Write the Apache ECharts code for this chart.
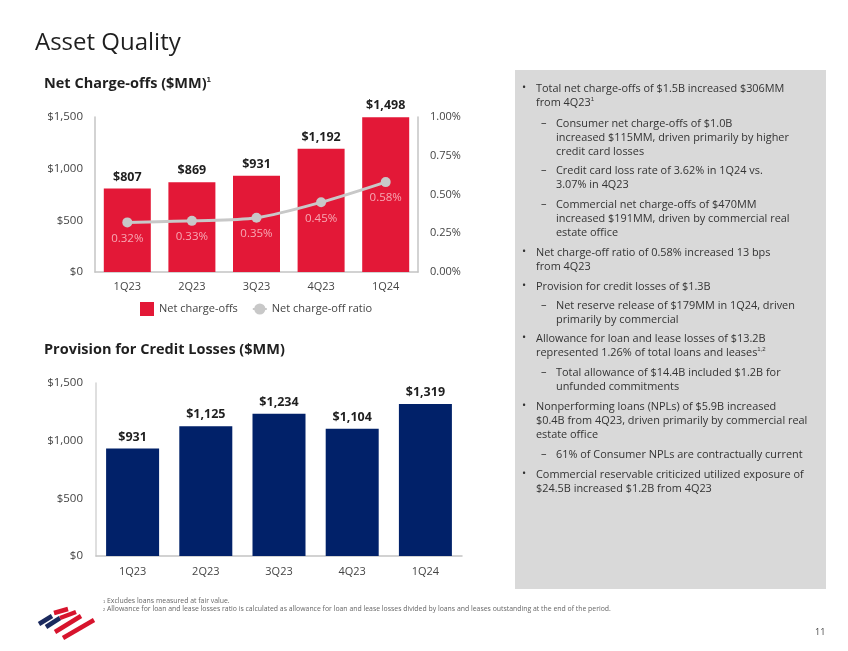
<!DOCTYPE html>
<html>
<head>
<meta charset="utf-8">
<style>html,body{margin:0;padding:0;background:#fff}#main{width:848px;height:651px}</style>
<script src="https://cdn.jsdelivr.net/npm/echarts@6/dist/echarts.min.js"></script>
</head>
<body>
<div id="main"></div>
<script>
const quarters = ['1Q23', '2Q23', '3Q23', '4Q23', '1Q24'];
const chargeOffs = [807, 869, 931, 1192, 1498];
const chargeOffRatio = [0.32, 0.33, 0.35, 0.45, 0.58];
const provision = [931, 1125, 1234, 1104, 1319];
const footnotes = [
    '{s|1} Excludes loans measured at fair value.',
    '{s|2} Allowance for loan and lease losses ratio is calculated as allowance for loan and lease losses divided by loans and leases outstanding at the end of the period.'
];
// bullets: level, y of first line, lines
const bullets = [
    [0, 82, ['Total net charge-offs of $1.5B increased $306MM', 'from 4Q23{s|1}']],
    [1, 117, ['Consumer net charge-offs of $1.0B', 'increased $115MM, driven primarily by higher', 'credit card losses']],
    [1, 164, ['Credit card loss rate of 3.62% in 1Q24 vs.', '3.07% in 4Q23']],
    [1, 198, ['Commercial net charge-offs of $470MM', 'increased $191MM, driven by commercial real', 'estate office']],
    [0, 246, ['Net charge-off ratio of 0.58% increased 13 bps', 'from 4Q23']],
    [0, 280, ['Provision for credit losses of $1.3B']],
    [1, 299, ['Net reserve release of $179MM in 1Q24, driven', 'primarily by commercial']],
    [0, 332, ['Allowance for loan and lease losses of $13.2B', 'represented 1.26% of total loans and leases{s|1,2}']],
    [1, 366, ['Total allowance of $14.4B included $1.2B for', 'unfunded commitments']],
    [0, 400, ['Nonperforming loans (NPLs) of $5.9B increased', '$0.4B from 4Q23, driven primarily by commercial real', 'estate office']],
    [1, 448, ['61% of Consumer NPLs are contractually current']],
    [0, 468, ['Commercial reservable criticized utilized exposure of', '$24.5B increased $1.2B from 4Q23']]
];

const FONT = '"Open Sans", "Noto Sans", sans-serif';
const GREY = '#c4c4c4';
const money = v => '$' + v.toLocaleString('en-US');
const chart = echarts.init(document.getElementById('main'), null, {renderer: 'canvas'});

const graphic = [
    {type: 'rect', z: -1, shape: {x: 515, y: 70, width: 311, height: 519}, style: {fill: '#d9d9d9'}},
    {type: 'text', x: 35, y: 31, style: {text: 'Asset Quality', font: '24px ' + FONT, fill: '#1f1f1f'}},
    {type: 'text', x: 44, y: 76, style: {
        text: 'Net Charge-offs ($MM){s|1}', font: 'bold 14.5px ' + FONT, fill: '#1f1f1f',
        rich: {s: {fontSize: 8, fontWeight: 'bold', verticalAlign: 'top', fill: '#1f1f1f'}}
    }},
    {type: 'text', x: 44, y: 342, style: {text: 'Provision for Credit Losses ($MM)', font: 'bold 14.5px ' + FONT, fill: '#1f1f1f'}},
    {type: 'text', x: 815, y: 628, style: {text: '11', font: '9px ' + FONT, fill: '#444'}}
];

bullets.forEach(([level, y, lines]) => {
    graphic.push({type: 'text', x: level ? 541 : 522, y: y, style: {text: level ? '–' : '•', font: '11px ' + FONT, fill: '#333'}});
    graphic.push({type: 'text', x: level ? 556 : 536, y: y, style: {
        text: lines.join('\n'), font: '10.9px ' + FONT, fill: '#333', lineHeight: 14,
        rich: {s: {fontSize: 6, verticalAlign: 'top', fill: '#333'}}
    }});
});

footnotes.forEach((t, i) => {
    graphic.push({type: 'text', x: 103, y: 598 + i * 8, style: {
        text: t, font: '6.9px ' + FONT, fill: '#666',
        rich: {s: {fontSize: 4, fill: '#666'}}
    }});
});

// logo flag
[[39, 624, 52, 616, '#1b2a5e'],
 [46, 627, 60, 618, '#1b2a5e'],
 [54, 613, 68, 609, '#d7142d'],
 [60, 618, 76, 612, '#d7142d'],
 [55, 632, 81, 616, '#d7142d'],
 [63, 638, 94, 620, '#d7142d']
].forEach(l => {
    graphic.push({type: 'line', shape: {x1: l[0], y1: l[1], x2: l[2], y2: l[3]}, style: {stroke: l[4], lineWidth: 4.5}});
});

chart.setOption({
    animation: false,
    textStyle: {fontFamily: FONT},
    graphic: graphic,
    legend: {
        left: 135, top: 297, itemWidth: 14, itemHeight: 14, itemGap: 14,
        textStyle: {fontSize: 11, color: '#444', fontFamily: FONT},
        data: [
            {name: 'Net charge-offs', icon: 'rect'},
            {name: 'Net charge-off ratio'}
        ]
    },
    grid: [
        {left: 95, right: 430, top: 117, height: 155},
        {left: 96, right: 386, top: 383, height: 173}
    ],
    xAxis: [0, 1].map(i => ({
        type: 'category', gridIndex: i, data: quarters,
        axisTick: {show: false},
        axisLine: {lineStyle: {color: GREY, width: 1.5}},
        axisLabel: {fontSize: 11, color: '#444', margin: i ? 10 : 9}
    })),
    yAxis: [
        {
            type: 'value', gridIndex: 0, min: 0, max: 1500, interval: 500,
            axisLine: {show: true, lineStyle: {color: GREY, width: 1.5}},
            axisTick: {show: false}, splitLine: {show: false},
            axisLabel: {fontSize: 11.5, color: '#444', margin: 12, formatter: money}
        },
        {
            type: 'value', gridIndex: 0, position: 'right', min: 0, max: 1, interval: 0.25,
            axisLine: {show: true, lineStyle: {color: GREY, width: 1.5}},
            axisTick: {show: false}, splitLine: {show: false},
            axisLabel: {fontSize: 11, color: '#444', margin: 12, formatter: v => v.toFixed(2) + '%'}
        },
        {
            type: 'value', gridIndex: 1, min: 0, max: 1500, interval: 500,
            axisLine: {show: true, lineStyle: {color: '#d4d4d4', width: 1.5}},
            axisTick: {show: false}, splitLine: {show: false},
            axisLabel: {fontSize: 11.5, color: '#444', margin: 13, formatter: money}
        }
    ],
    series: [
        {
            name: 'Net charge-offs', type: 'bar', xAxisIndex: 0, yAxisIndex: 0, data: chargeOffs,
            barWidth: 47, itemStyle: {color: '#e31837'},
            label: {
                show: true, position: 'top', distance: 5, fontSize: 12.5, fontWeight: 'bold', color: '#1f1f1f',
                formatter: p => money(p.value)
            }
        },
        {
            name: 'Net charge-off ratio', type: 'line', xAxisIndex: 0, yAxisIndex: 1, data: chargeOffRatio,
            smooth: 0.3, symbol: 'circle', symbolSize: 10, z: 5,
            lineStyle: {color: '#c8c8c8', width: 3}, itemStyle: {color: '#c8c8c8'},
            label: {
                show: true, position: 'bottom', distance: 5, fontSize: 11.5, color: '#f7a8b4',
                formatter: p => p.value.toFixed(2) + '%'
            }
        },
        {
            name: 'Provision', type: 'bar', xAxisIndex: 1, yAxisIndex: 2, data: provision,
            barWidth: 53, itemStyle: {color: '#012169'},
            label: {
                show: true, position: 'top', distance: 5, fontSize: 12.5, fontWeight: 'bold', color: '#1f1f1f',
                formatter: p => money(p.value)
            }
        }
    ]
});
</script>
</body>
</html>
